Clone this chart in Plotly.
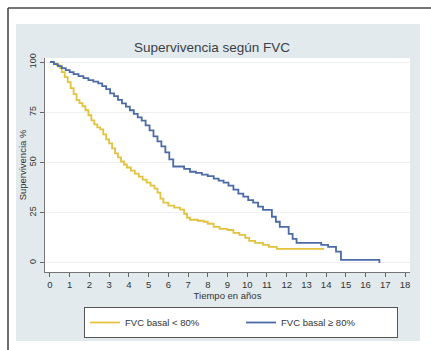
import plotly.graph_objects as go

# Kaplan-Meier survival estimates (%), by baseline FVC group
time_lt80 = [0, 0.2, 0.35, 0.5, 0.6, 0.75, 0.9, 1.05, 1.2, 1.35, 1.5, 1.65, 1.8, 1.95,
             2.1, 2.25, 2.4, 2.55, 2.7, 2.85, 3.0, 3.15, 3.3, 3.45, 3.6, 3.75, 3.9, 4.1,
             4.3, 4.5, 4.7, 4.9, 5.1, 5.3, 5.45, 5.6, 5.75, 6.0, 6.3, 6.6, 6.8, 6.95,
             7.1, 7.5, 7.8, 8.0, 8.3, 8.6, 9.0, 9.3, 9.6, 9.9, 10.1, 10.4, 10.8, 11.1,
             11.5, 13.9]
surv_lt80 = [100, 99.3, 98.5, 97, 95, 92.5, 90, 87, 84, 81, 79.5, 78, 76, 73.5,
             71, 69, 67.5, 66.5, 64, 61.5, 59.5, 57, 54.5, 52.5, 50.5, 49, 47.5, 46,
             44.5, 43, 41.5, 40, 38.5, 37, 35, 32, 30, 28.5, 27.5, 26.5, 24.5, 22.5,
             21.5, 21, 20.5, 19.5, 18, 17, 16.4, 15, 14, 12.5, 11, 10, 9, 8,
             7, 7]

time_ge80 = [0, 0.2, 0.4, 0.6, 0.8, 1.0, 1.2, 1.45, 1.7, 1.95, 2.2, 2.45, 2.65, 2.85,
             3.05, 3.25, 3.45, 3.65, 3.85, 4.05, 4.25, 4.45, 4.65, 4.85, 5.05, 5.25,
             5.45, 5.65, 5.85, 6.05, 6.25, 6.8, 7.1, 7.4, 7.7, 8.0, 8.3, 8.55, 8.8,
             9.05, 9.3, 9.55, 9.8, 10.05, 10.3, 10.55, 10.8, 11.25, 11.45, 11.65,
             12.1, 12.3, 12.5, 13.75, 14.1, 14.5, 14.75, 16.7]
surv_ge80 = [100, 99, 98, 97, 96, 95, 94, 93, 92, 91, 90.2, 89.4, 88, 86.5,
             84.4, 83, 81.2, 79.4, 77.8, 76, 74.2, 72.5, 70.8, 68.5, 66, 63,
             60.5, 58, 55, 51.5, 48, 46.8, 45.4, 44.8, 44, 43.2, 42, 41, 40,
             38.5, 36.5, 34.5, 33, 31.3, 30, 28, 26.4, 23, 20.5, 18,
             14.5, 12, 10, 9, 8, 5.6, 1.5, 0]

x_ticks = list(range(0, 19))
y_ticks = [0, 25, 50, 75, 100]

YELLOW = "#E3C23E"
BLUE = "#4B6BA6"
PANEL = "#E2EAEE"
TEXT = "#333333"

W, H = 431, 350
L, R, T, B = 45, 410, 58, 272  # plot area in pixels


def px(xp):
    return (xp - L) / (R - L)


def py(yp):
    return (B - yp) / (B - T)


fig = go.Figure()
fig.add_trace(go.Scatter(x=time_lt80, y=surv_lt80, mode="lines", line_shape="hv",
                         line=dict(color=YELLOW, width=1.8), name="FVC basal < 80%"))
fig.add_trace(go.Scatter(x=time_ge80, y=surv_ge80, mode="lines", line_shape="hv",
                         line=dict(color=BLUE, width=1.8), name="FVC basal \u2265 80%"))

shapes = [
    # graph region background
    dict(type="rect", xref="paper", yref="paper", x0=px(16), x1=px(420), y0=py(341), y1=py(24),
         fillcolor=PANEL, line=dict(width=0), layer="below"),
    # white plot region
    dict(type="rect", xref="paper", yref="paper", x0=0, x1=1, y0=0, y1=1,
         fillcolor="white", line=dict(width=0), layer="below"),
    # outer frame (left and top edges)
    dict(type="line", xref="paper", yref="paper", x0=px(8), x1=px(8), y0=py(8), y1=py(350),
         line=dict(color="#4a4a4a", width=1.6), layer="below"),
    dict(type="line", xref="paper", yref="paper", x0=px(8), x1=px(431), y0=py(8), y1=py(8),
         line=dict(color="#4a4a4a", width=1.6), layer="below"),
]

fig.update_layout(
    width=W, height=H,
    margin=dict(l=L, r=W - R, t=T, b=H - B, pad=0),
    paper_bgcolor="white", plot_bgcolor="white",
    font=dict(family="Liberation Sans, Arial, sans-serif", color=TEXT, size=9),
    shapes=shapes,
    showlegend=True,
    legend=dict(orientation="h", x=px(84), y=py(307), xanchor="left", yanchor="top",
                bgcolor="white", bordercolor="#555555", borderwidth=1,
                font=dict(size=9.5, color=TEXT), entrywidth=111, entrywidthmode="pixels",
                itemwidth=30, tracegroupgap=0),
    annotations=[dict(text="Supervivencia según FVC", xref="paper", yref="paper",
                      x=px(212), y=py(47), xanchor="center", yanchor="middle",
                      showarrow=False, font=dict(size=13.5, color="#3a3f44"))],
)

fig.update_xaxes(range=[-0.25, 18.25], tickvals=x_ticks, ticks="outside", ticklen=4,
                 tickcolor="#666666", showline=True, linecolor="#777777", linewidth=1,
                 showgrid=False, zeroline=False, tickfont=dict(size=9.5),
                 title=dict(text="Tiempo en años", font=dict(size=9.5), standoff=2))
fig.update_yaxes(range=[-4.5, 102], tickvals=y_ticks, ticks="outside", ticklen=4,
                 tickcolor="#666666", showline=True, linecolor="#777777", linewidth=1,
                 showgrid=True, gridcolor="#efefef", gridwidth=1, zeroline=False,
                 tickangle=-90, tickfont=dict(size=9),
                 title=dict(text="Supervivencia %", font=dict(size=9.5), standoff=0))

fig.write_html("out.html")
